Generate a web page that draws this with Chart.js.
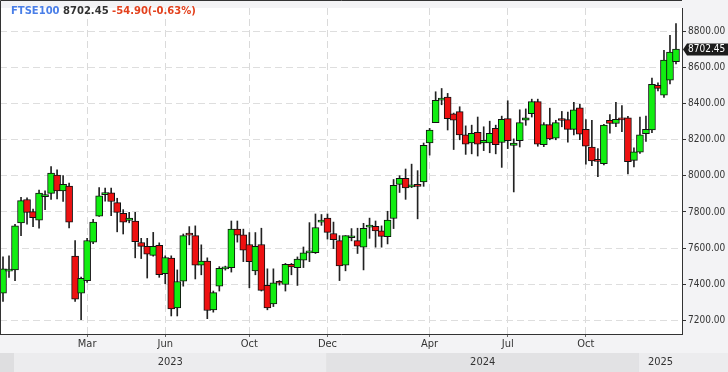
<!DOCTYPE html>
<html>
<head>
<meta charset="utf-8">
<script src="https://cdn.jsdelivr.net/npm/chart.js@4.4.1/dist/chart.umd.min.js"></script>
<style>
  html, body { margin: 0; padding: 0; background: #f3f3f5; }
  canvas { display: block; }
</style>
</head>
<body>
<canvas id="chart" width="728" height="372"></canvas>
<script>
// weekly candles
const opens = [7350,7472,7479,7739,7869,7802,7755,7885,7903,8004,7917,7944,7555,7350,7420,7633,7777,7896,7906,7852,
  7793,7753,7750,7631,7609,7560,7615,7458,7544,7269,7417,7674,7669,7506,7528,7258,7389,7485,7492,7705,
  7674,7620,7474,7620,7393,7290,7410,7398,7510,7492,7533,7573,7575,7744,7766,7681,7641,7506,7657,7641,
  7605,7716,7721,7695,7663,7764,7953,7987,7939,7948,7966,8182,8295,8420,8437,8344,8356,8227,8182,8241,
  8182,8182,8263,8185,8317,8169,8195,8308,8344,8411,8173,8284,8209,8312,8312,8258,8377,8258,8159,8082,
  8068,8308,8290,8317,8322,8086,8131,8234,8254,8501,8447,8530,8632];
const highs = [7551,7557,7732,7881,7879,7816,7921,7917,8052,8033,8002,7960,7642,7440,7654,7759,7935,7933,7933,7876,
  7813,7798,7798,7654,7654,7687,7629,7557,7557,7479,7678,7719,7723,7618,7546,7362,7497,7500,7750,7750,
  7705,7686,7686,7710,7485,7485,7420,7515,7515,7551,7606,7741,7789,7786,7789,7744,7669,7669,7708,7710,
  7737,7766,7750,7723,7804,7980,8001,8038,8065,8029,8182,8263,8466,8484,8457,8348,8383,8277,8281,8326,
  8272,8303,8281,8331,8416,8205,8366,8371,8425,8425,8295,8375,8308,8357,8353,8407,8398,8312,8308,8151,
  8286,8339,8407,8389,8330,8155,8326,8331,8542,8515,8696,8778,8843];
const lows = [7305,7438,7420,7669,7732,7719,7710,7813,7870,7872,7858,7712,7305,7204,7410,7624,7775,7860,7780,7690,
  7678,7740,7546,7542,7434,7555,7438,7402,7224,7224,7389,7618,7429,7452,7209,7245,7362,7478,7467,7633,
  7525,7380,7452,7362,7258,7276,7395,7362,7452,7393,7492,7525,7570,7726,7650,7597,7420,7474,7640,7570,
  7479,7654,7605,7605,7623,7708,7908,7870,7935,7762,7942,8115,8295,8394,8254,8146,8200,8119,8122,8110,
  8140,8128,8122,8047,8151,7911,8160,8280,8326,8164,8162,8200,8200,8272,8187,8227,8200,8065,8056,7996,
  8060,8236,8272,8245,8011,8050,8125,8191,8240,8470,8434,8510,8620];
const closes = [7485,7476,7723,7863,7798,7768,7905,7897,8015,7917,7953,7744,7317,7433,7642,7744,7890,7906,7858,7798,
  7744,7766,7636,7609,7566,7609,7452,7548,7263,7415,7669,7672,7506,7528,7254,7353,7488,7490,7705,7672,
  7588,7525,7609,7366,7269,7407,7405,7510,7496,7539,7573,7582,7714,7755,7687,7647,7501,7669,7660,7611,
  7710,7721,7695,7665,7755,7948,7987,7933,7946,7942,8169,8254,8419,8431,8317,8308,8227,8176,8236,8176,
  8197,8236,8173,8313,8195,8182,8295,8322,8411,8176,8284,8205,8295,8307,8258,8366,8231,8164,8083,8080,
  8281,8290,8313,8310,8079,8133,8227,8258,8507,8485,8642,8686,8702.45];

// axis labels
const tickIndex = [14, 27, 41, 54, 71, 84, 97];
const tickText = ['Mar', 'Jun', 'Oct', 'Dec', 'Apr', 'Jul', 'Oct'];
const yearIndex = [2, 54, 106];
const yearText = ['2023', '2024', '2025'];
const yTicks = [7200, 7400, 7600, 7800, 8000, 8200, 8400, 8600, 8800];

const symbol = 'FTSE100';
const dayChange = -54.90;
const dayChangePct = -0.63;

const UP = '#11ee11', DOWN = '#ee1111';
const bodyColors = opens.map((o, i) => closes[i] >= o ? UP : DOWN);

const frame = {
  id: 'frame',
  beforeDraw(chart) {
    const { ctx, chartArea: a, width, height } = chart;
    const xs = chart.scales.x;
    ctx.save();
    ctx.fillStyle = '#f3f3f5';
    ctx.fillRect(0, 0, width, height);
    ctx.fillStyle = '#ffffff';
    ctx.fillRect(a.left, a.top, a.right - a.left, a.bottom - a.top);

    // year strip at the bottom
    const bandTop = 353;
    ctx.fillStyle = '#dedee0';
    ctx.fillRect(0, bandTop, width, height - bandTop);
    ctx.font = '11px "DejaVu Sans Condensed"';
    ctx.textAlign = 'center';
    ctx.textBaseline = 'middle';
    yearIndex.forEach((idx, k) => {
      const x0 = xs.getPixelForValue(idx) - 1;
      const x1 = k + 1 < yearIndex.length ? xs.getPixelForValue(yearIndex[k + 1]) - 1 : width;
      ctx.fillStyle = k % 2 === 0 ? '#ececee' : '#e2e2e4';
      ctx.fillRect(x0, bandTop, x1 - x0, height - bandTop);
      ctx.fillStyle = '#333';
      ctx.fillText(yearText[k], (x0 + Math.min(x1, a.right)) / 2, 362);
    });
    ctx.restore();
  },
  afterDraw(chart) {
    const { ctx, chartArea: a, width } = chart;
    const ys = chart.scales.y;
    ctx.save();
    // top + left frame
    ctx.strokeStyle = '#333';
    ctx.lineWidth = 1;
    ctx.beginPath();
    ctx.moveTo(0.5, a.bottom);
    ctx.lineTo(0.5, 0.5);
    ctx.lineTo(a.right, 0.5);
    ctx.stroke();

    // header
    ctx.font = 'bold 10px "DejaVu Sans"';
    ctx.textAlign = 'left';
    ctx.textBaseline = 'middle';
    const last = closes[closes.length - 1];
    const parts = [
      [symbol, '#4a7fe8'],
      [' ' + last.toFixed(2), '#333333'],
      [' ' + dayChange.toFixed(2) + '(' + dayChangePct.toFixed(2) + '%)', '#e3411d']
    ];
    let tx = 11;
    parts.forEach(([t, c]) => {
      ctx.fillStyle = c;
      ctx.fillText(t, tx, 11);
      tx += ctx.measureText(t).width;
    });

    // last price tag
    const py = Math.round(ys.getPixelForValue(last)) + 0.5;
    const left = a.right + 1;
    ctx.fillStyle = '#1c1c1c';
    ctx.beginPath();
    ctx.moveTo(left, py);
    ctx.lineTo(left + 4, py - 6);
    ctx.lineTo(width, py - 6);
    ctx.lineTo(width, py + 6);
    ctx.lineTo(left + 4, py + 6);
    ctx.closePath();
    ctx.fill();
    ctx.fillStyle = '#ffffff';
    ctx.font = '10px "DejaVu Sans Condensed"';
    ctx.fillText(last.toFixed(2), left + 5, py);
    ctx.restore();
  }
};

new Chart(document.getElementById('chart'), {
  type: 'bar',
  data: {
    datasets: [
      {
        label: 'wick',
        data: highs.map((h, i) => ({ x: i, y: [lows[i], h] })),
        backgroundColor: '#222',
        barThickness: 1,
        grouped: false,
        order: 2
      },
      {
        label: 'body',
        data: opens.map((o, i) => ({ x: i, y: [o, closes[i]] })),
        backgroundColor: bodyColors,
        borderColor: '#111',
        borderWidth: 1,
        borderSkipped: false,
        barThickness: 7,
        minBarLength: 2,
        grouped: false,
        order: 1
      }
    ]
  },
  options: {
    responsive: false,
    animation: false,
    devicePixelRatio: 1,
    layout: { padding: 0 },
    plugins: { legend: { display: false }, tooltip: { enabled: false } },
    scales: {
      x: {
        type: 'linear',
        min: -0.5,
        max: 113,
        offset: false,
        afterBuildTicks: s => { s.ticks = tickIndex.map(v => ({ value: v })); },
        afterFit: s => { s.height = 38; },
        ticks: {
          callback: v => tickText[tickIndex.indexOf(v)],
          autoSkip: false,
          maxRotation: 0,
          font: { family: 'DejaVu Sans Condensed', size: 11 },
          color: '#333',
          padding: 1
        },
        grid: { offset: false, color: '#dadada', tickLength: 3, tickColor: '#666' },
        border: { color: '#333', dash: [7, 4] }
      },
      y: {
        position: 'right',
        min: 7124,
        max: 8930,
        afterBuildTicks: s => { s.ticks = yTicks.map(v => ({ value: v })); },
        afterFit: s => { s.width = 46; },
        ticks: {
          callback: v => v.toFixed(2),
          font: { family: 'DejaVu Sans Condensed', size: 10 },
          color: '#333',
          padding: 2
        },
        grid: { color: '#dedede', tickLength: 4, tickColor: '#333' },
        border: { color: '#333', dash: [7, 4] }
      }
    }
  },
  plugins: [frame]
});
</script>
</body>
</html>
